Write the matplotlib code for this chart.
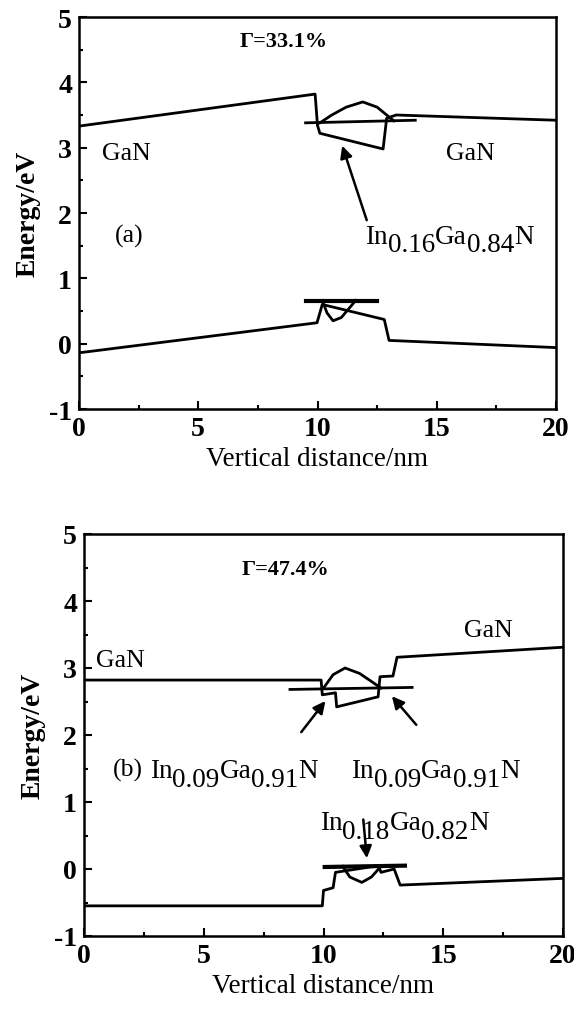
import numpy as np
import matplotlib
matplotlib.use("Agg")
import matplotlib.pyplot as plt
from matplotlib.ticker import MultipleLocator

plt.rcParams['font.family'] = ['Liberation Serif', 'DejaVu Serif']
plt.rcParams['axes.unicode_minus'] = False

# ---- panel (a): Gamma = 33.1 %
a_cb_x = [0, 9.9, 10.0, 10.1, 12.75, 12.9, 13.3, 20]
a_cb_e = [3.33, 3.82, 3.34, 3.22, 2.98, 3.45, 3.50, 3.42]
a_vb_x = [0, 9.98, 10.2, 12.8, 13.0, 20]
a_vb_e = [-0.14, 0.32, 0.60, 0.37, 0.05, -0.06]
a_e_level = ([9.5, 14.1], [3.38, 3.42])
a_h_level = ([9.5, 12.5], [0.66, 0.66])
a_e_wave_x = [10.1, 10.6, 11.2, 11.9, 12.5, 13.2]
a_e_wave_e = [3.38, 3.50, 3.62, 3.70, 3.62, 3.41]
a_h_wave_x = [10.2, 10.4, 10.65, 11.0, 11.3, 11.6]
a_h_wave_e = [0.66, 0.47, 0.35, 0.40, 0.53, 0.66]

# ---- panel (b): Gamma = 47.4 %
b_cb_x = [0, 9.9, 9.95, 10.5, 10.55, 12.28, 12.36, 12.9, 13.07, 20]
b_cb_e = [2.82, 2.82, 2.60, 2.63, 2.42, 2.57, 2.87, 2.88, 3.16, 3.31]
b_vb_x = [0, 9.95, 10.0, 10.4, 10.5, 12.3, 12.4, 12.95, 13.2, 20]
b_vb_e = [-0.55, -0.55, -0.32, -0.28, -0.05, 0.05, -0.05, 0.0, -0.24, -0.14]
b_e_level = ([8.6, 13.7], [2.68, 2.71])
b_h_level = ([10.05, 13.4], [0.03, 0.05])
b_e_wave_x = [10.0, 10.4, 10.9, 11.5, 12.0, 12.4]
b_e_wave_e = [2.70, 2.90, 3.00, 2.92, 2.80, 2.70]
b_h_wave_x = [10.8, 11.1, 11.6, 12.0, 12.4]
b_h_wave_e = [0.04, -0.12, -0.20, -0.12, 0.04]

gammas = ['33.1%', '47.4%']


def chem(ax, x, y, parts, size):
    # formula like In0.16Ga0.84N, numbers lowered but kept full size
    t = ax.text(x, y, parts[0], fontsize=size, va='bottom', ha='left')
    for i, s in enumerate(parts[1:]):
        dy = -6 if i % 2 == 0 else 6
        t = ax.annotate(s, xy=(1, 0), xycoords=t, xytext=(0, dy),
                        textcoords='offset points', fontsize=size,
                        va='bottom', ha='left')
    return t


def style(ax):
    ax.set_xlim(0, 20)
    ax.set_ylim(-1, 5)
    ax.xaxis.set_major_locator(MultipleLocator(5))
    ax.xaxis.set_minor_locator(MultipleLocator(2.5))
    ax.yaxis.set_major_locator(MultipleLocator(1))
    ax.yaxis.set_minor_locator(MultipleLocator(0.5))
    ax.tick_params(which='both', direction='in', top=False, right=False,
                   labelsize=20, width=1.5, pad=5)
    ax.tick_params(which='major', length=6)
    ax.tick_params(which='minor', length=3)
    for lab in ax.get_xticklabels() + ax.get_yticklabels():
        lab.set_fontweight('bold')
    for s in ax.spines.values():
        s.set_linewidth(1.8)
    ax.set_xlabel('Vertical distance/nm', fontsize=19.5, labelpad=4)
    ax.set_ylabel('Energy/eV', fontsize=20, fontweight='bold', labelpad=6)


fig = plt.figure(figsize=(5.74, 10.12), dpi=100)
axa = fig.add_axes([79 / 574, 1 - 410 / 1012, 477 / 574, 392 / 1012])
axb = fig.add_axes([84 / 574, 1 - 937 / 1012, 479 / 574, 402 / 1012])

lw = 2.0
k = 'black'
arrow = dict(arrowstyle='-|>', color=k, lw=1.8, mutation_scale=18)

# panel (a)
axa.plot(a_cb_x, a_cb_e, color=k, lw=lw)
axa.plot(a_vb_x, a_vb_e, color=k, lw=lw)
axa.plot(*a_e_level, color=k, lw=lw)
axa.plot(*a_h_level, color=k, lw=lw + 1)
axa.plot(a_e_wave_x, a_e_wave_e, color=k, lw=lw)
axa.plot(a_h_wave_x, a_h_wave_e, color=k, lw=lw)
style(axa)
axa.text(8.6, 4.64, '\u0393=' + gammas[0], fontsize=16, fontweight='bold',
         ha='center', va='center')
axa.text(2.0, 2.92, 'GaN', fontsize=18.5, ha='center', va='center')
axa.text(16.4, 2.92, 'GaN', fontsize=18.5, ha='center', va='center')
axa.text(2.1, 1.65, '(a)', fontsize=18.5, ha='center', va='center')
chem(axa, 12.0, 1.45, ['In', '0.16', 'Ga', '0.84', 'N'], 19.5)
axa.annotate('', xy=(11.0, 3.07), xytext=(12.1, 1.85), arrowprops=arrow)

# panel (b)
axb.plot(b_cb_x, b_cb_e, color=k, lw=lw)
axb.plot(b_vb_x, b_vb_e, color=k, lw=lw)
axb.plot(*b_e_level, color=k, lw=lw)
axb.plot(*b_h_level, color=k, lw=lw + 1)
axb.plot(b_e_wave_x, b_e_wave_e, color=k, lw=lw)
axb.plot(b_h_wave_x, b_h_wave_e, color=k, lw=lw)
style(axb)
axb.text(8.4, 4.48, '\u0393=' + gammas[1], fontsize=16, fontweight='bold',
         ha='center', va='center')
axb.text(1.5, 3.12, 'GaN', fontsize=18.5, ha='center', va='center')
axb.text(16.9, 3.57, 'GaN', fontsize=18.5, ha='center', va='center')
axb.text(1.85, 1.49, '(b)', fontsize=18.5, ha='center', va='center')
chem(axb, 2.75, 1.28, ['In', '0.09', 'Ga', '0.91', 'N'], 19.5)
chem(axb, 11.15, 1.28, ['In', '0.09', 'Ga', '0.91', 'N'], 19.5)
chem(axb, 9.85, 0.5, ['In', '0.18', 'Ga', '0.82', 'N'], 19.5)
axb.annotate('', xy=(10.15, 2.54), xytext=(9.0, 2.01), arrowprops=arrow)
axb.annotate('', xy=(12.78, 2.61), xytext=(13.95, 2.12), arrowprops=arrow)
axb.annotate('', xy=(11.82, 0.12), xytext=(11.65, 0.78), arrowprops=arrow)

fig.savefig('out.png', dpi=100)
